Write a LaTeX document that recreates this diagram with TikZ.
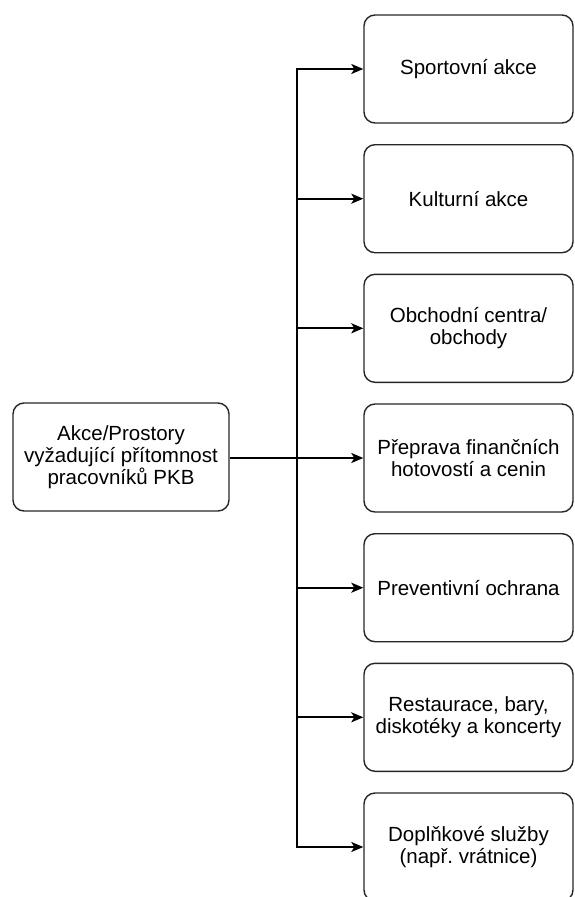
\documentclass[tikz,border=0pt]{standalone}
\usepackage{fontspec}
\setmainfont{Liberation Sans}
\frenchspacing
\usetikzlibrary{arrows.meta}
\begin{document}
\begin{tikzpicture}[x=1pt,y=-1pt,
  box/.style={draw=black!85, line width=1.4pt, rounded corners=11pt, align=center,
    font=\fontsize{20.5}{21.7}\selectfont, inner sep=0pt},
  target/.style={box, minimum width=209pt, minimum height=108pt},
  conn/.style={draw=black, line width=1.7pt, -{Stealth[length=12pt,width=10pt,inset=3pt]}}
]
\useasboundingbox (0,0) rectangle (574,897);
\clip (0,0) rectangle (574,897);
\node[box, minimum width=216pt, minimum height=108pt] (src) at (121,457) {Akce/Prostory\\vyžadující přítomnost\\pracovníků PKB};
\node[target] (b1) at (468.5,69) {Sportovní akce};
\node[target] (b2) at (468.5,198.7) {Kulturní akce};
\node[target] (b3) at (468.5,328.3) {Obchodní centra/\\obchody};
\node[target] (b4) at (468.5,458) {Přeprava finančních\\hotovostí a cenin};
\node[target] (b5) at (468.5,587.7) {Preventivní ochrana};
\node[target] (b6) at (468.5,717.3) {Restaurace, bary,\\diskotéky a koncerty};
\node[target] (b7) at (468.5,847) {Doplňkové služby\\(např. vrátnice)};
\coordinate (trunk) at (297,458);
\draw[line width=2.8pt] (src.east |- trunk) -- (trunk);
\foreach \i in {1,...,7}{
  \draw[conn] (trunk) |- (b\i.west);
}
\end{tikzpicture}
\end{document}
